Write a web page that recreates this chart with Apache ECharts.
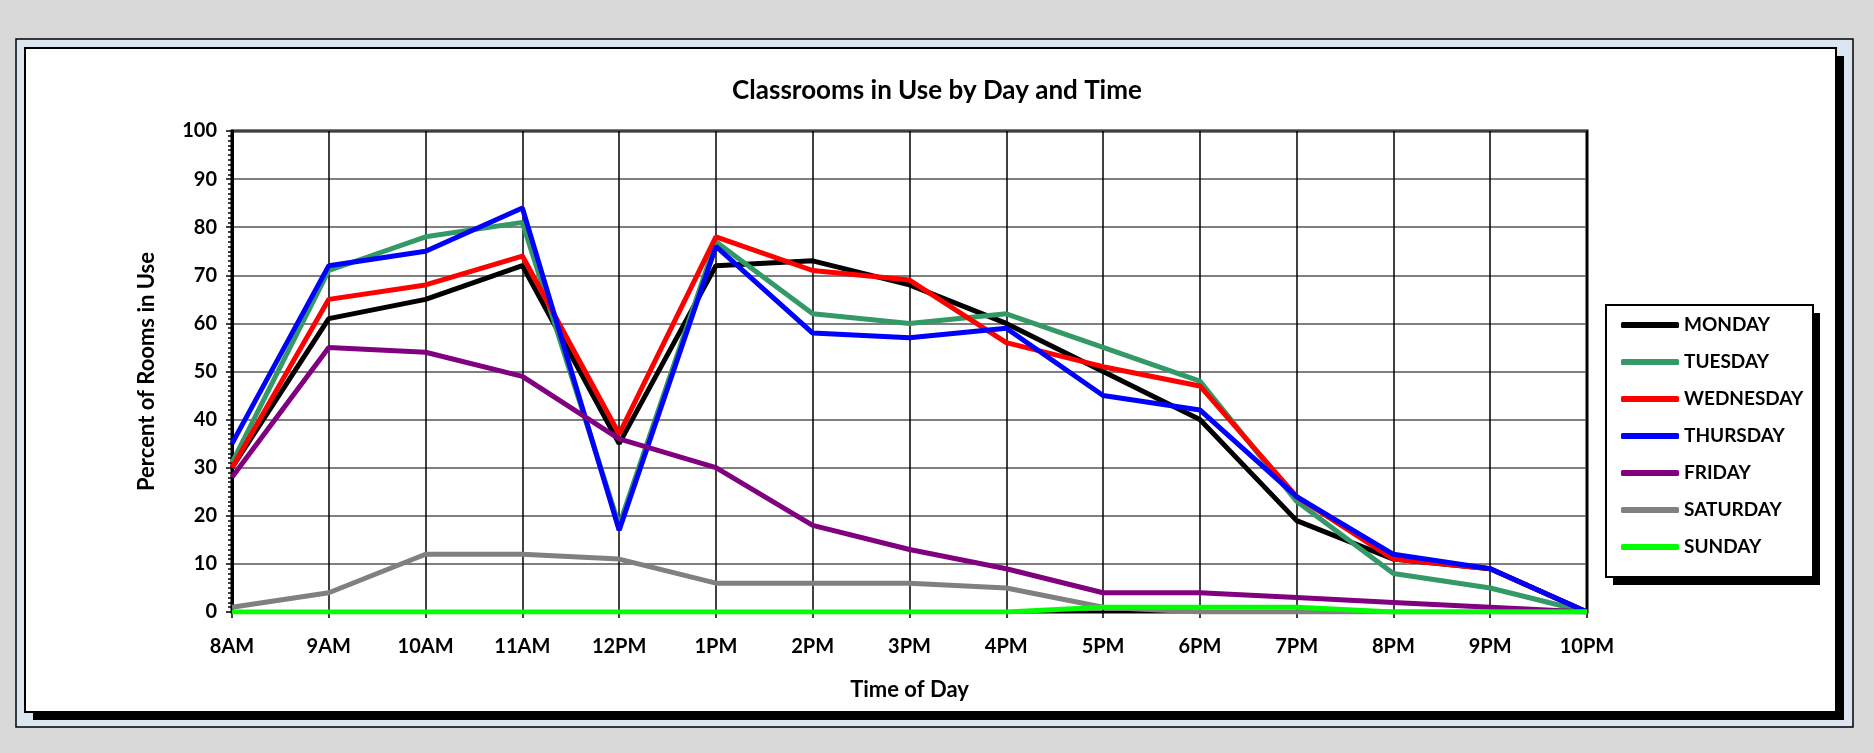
<!DOCTYPE html>
<html>
<head>
<meta charset="utf-8">
<title>Classrooms in Use by Day and Time</title>
<script src="https://cdn.jsdelivr.net/npm/echarts@6/dist/echarts.min.js"></script>
<style>
  html, body { margin: 0; padding: 0; background: #d9d9d9; }
  #chart { width: 1874px; height: 753px; }
</style>
</head>
<body>
<div id="chart"></div>
<script>
  let hours = ['8AM', '9AM', '10AM', '11AM', '12PM', '1PM', '2PM', '3PM', '4PM', '5PM', '6PM', '7PM', '8PM', '9PM', '10PM'];
  let yTicks = [0, 10, 20, 30, 40, 50, 60, 70, 80, 90, 100];

  let monday    = [30, 61, 65, 72, 35, 72, 73, 68, 60, 50, 40, 19, 11, 9, 0];
  let tuesday   = [31, 71, 78, 81, 18, 77, 62, 60, 62, 55, 48, 23, 8, 5, 0];
  let wednesday = [30, 65, 68, 74, 37, 78, 71, 69, 56, 51, 47, 24, 11, 9, 0];
  let thursday  = [35, 72, 75, 84, 17, 76, 58, 57, 59, 45, 42, 24, 12, 9, 0];
  let friday    = [28, 55, 54, 49, 36, 30, 18, 13, 9, 4, 4, 3, 2, 1, 0];
  let saturday  = [1, 4, 12, 12, 11, 6, 6, 6, 5, 1, 0, 0, 0, 0, 0];
  let sunday    = [0, 0, 0, 0, 0, 0, 0, 0, 0, 1, 1, 1, 0, 0, 0];

  let days = ['MONDAY', 'TUESDAY', 'WEDNESDAY', 'THURSDAY', 'FRIDAY', 'SATURDAY', 'SUNDAY'];
  let dayData = [monday, tuesday, wednesday, thursday, friday, saturday, sunday];
  let dayColors = ['#000000', '#339966', '#ff0000', '#0000ff', '#800080', '#808080', '#00ff00'];

  let font = 'Lato, "Open Sans", sans-serif';

  let myChart = echarts.init(document.getElementById('chart'));

  let series = days.map(function (d, i) {
    return {
      name: d,
      type: 'line',
      data: dayData[i],
      symbol: 'none',
      color: dayColors[i],
      lineStyle: { color: dayColors[i], width: 5 },
      animation: false
    };
  });

  let option = {
    backgroundColor: '#d9d9d9',
    animation: false,
    graphic: [
      // outer light blue frame
      { type: 'rect', z: -10, shape: { x: 16, y: 39, width: 1837, height: 688 },
        style: { fill: '#dce6f0', stroke: '#000', lineWidth: 1.5 } },
      // shadow + white chart area
      { type: 'rect', z: -9, shape: { x: 33, y: 56, width: 1811, height: 664 },
        style: { fill: '#000' } },
      { type: 'rect', z: -8, shape: { x: 25, y: 48, width: 1811, height: 664 },
        style: { fill: '#fff', stroke: '#000', lineWidth: 2 } },
      // legend box
      { type: 'rect', z: -7, shape: { x: 1613, y: 313, width: 207, height: 272 },
        style: { fill: '#000' } },
      { type: 'rect', z: -6, shape: { x: 1606, y: 305, width: 207, height: 272 },
        style: { fill: '#fff', stroke: '#000', lineWidth: 2 } }
    ],
    title: {
      text: 'Classrooms in Use by Day and Time',
      left: 'center',
      top: 78,
      padding: 0,
      textStyle: { fontFamily: font, fontWeight: 'bold', fontSize: 26, color: '#000' }
    },
    legend: {
      data: days,
      orient: 'vertical',
      left: 1621,
      top: 315,
      padding: 0,
      icon: 'roundRect',
      itemWidth: 58,
      itemHeight: 6,
      itemGap: 17,
      z: 10,
      textStyle: { fontFamily: font, fontWeight: 'bold', fontSize: 19, lineHeight: 20, color: '#000' }
    },
    grid: {
      left: 232,
      right: 287,
      top: 131,
      bottom: 141,
      show: true,
      borderColor: '#000',
      borderWidth: 3
    },
    xAxis: {
      type: 'category',
      data: hours,
      boundaryGap: false,
      name: 'Time of Day',
      nameLocation: 'middle',
      nameGap: 67,
      nameTextStyle: { fontFamily: font, fontWeight: 'bold', fontSize: 22, color: '#000' },
      axisLine: { lineStyle: { color: '#000', width: 2 } },
      axisTick: { show: true, length: 6, lineStyle: { color: '#000', width: 1.5 } },
      axisLabel: { margin: 25, fontFamily: font, fontWeight: 'bold', fontSize: 20, color: '#000' },
      splitLine: { show: true, lineStyle: { color: '#000', width: 1.5 } }
    },
    yAxis: {
      type: 'value',
      min: yTicks[0],
      max: yTicks[yTicks.length - 1],
      interval: 10,
      name: 'Percent of Rooms in Use',
      nameLocation: 'middle',
      nameGap: 74,
      nameTextStyle: { fontFamily: font, fontWeight: 'bold', fontSize: 22, color: '#000' },
      axisLine: { show: true, lineStyle: { color: '#000', width: 3 } },
      axisTick: { show: true, length: 6, lineStyle: { color: '#000', width: 1.5 } },
      minorTick: { show: true, splitNumber: 10, length: 4, lineStyle: { color: '#000', width: 1.5 } },
      axisLabel: { margin: 15, fontFamily: font, fontWeight: 'bold', fontSize: 20, color: '#000' },
      splitLine: { show: true, lineStyle: { color: '#555', width: 1.5 } }
    },
    series: series
  };

  myChart.setOption(option);
</script>
</body>
</html>
